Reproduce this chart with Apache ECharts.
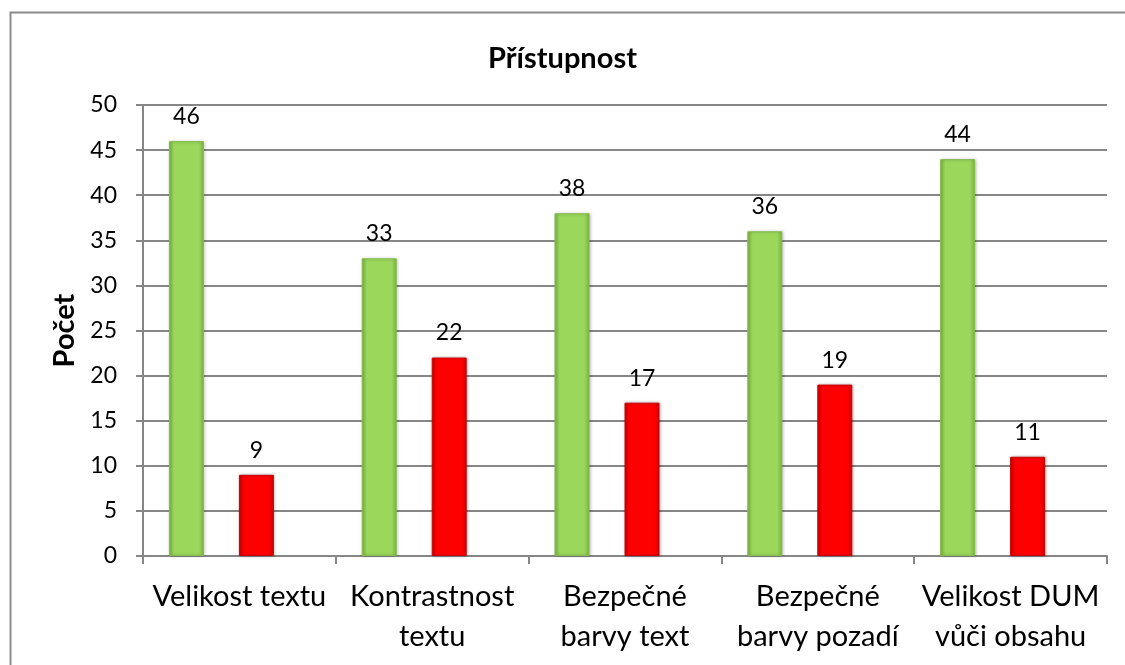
<!DOCTYPE html>
<html>
<head>
<meta charset="utf-8">
<script src="https://cdn.jsdelivr.net/npm/echarts@6/dist/echarts.min.js"></script>
<style>
    html, body { margin: 0; padding: 0; background: #fff; }
    #chart { width: 1125px; height: 665px; }
</style>
</head>
<body>
<div id="chart"></div>
<script>
// data
const categories = ['Velikost textu', 'Kontrastnost\ntextu', 'Bezpečné\nbarvy text', 'Bezpečné\nbarvy pozadí', 'Velikost DUM\nvůči obsahu']
const greenValues = [46, 33, 38, 36, 44]
const redValues = [9, 22, 17, 19, 11]
const yTicks = { min: 0, max: 50, interval: 5 }

const FONT = 'Lato'

let chart = echarts.init(document.getElementById('chart'), null, { renderer: 'canvas' })

function barColor(edge, mid) {
    return new echarts.graphic.LinearGradient(0, 0, 1, 0, [
        { offset: 0, color: edge },
        { offset: 0.15, color: mid },
        { offset: 0.85, color: mid },
        { offset: 1, color: edge }
    ])
}

let dataLabel = {
    show: true,
    position: 'top',
    distance: 13,
    color: '#000',
    fontFamily: FONT,
    fontSize: 23
}

let option = {
    animation: false,
    backgroundColor: '#fff',
    title: {
        text: 'Přístupnost',
        left: 'center',
        top: 39,
        textStyle: { fontFamily: FONT, fontWeight: 'bold', fontSize: 29, color: '#000' }
    },
    graphic: [{
        type: 'rect',
        shape: { x: 10.5, y: 12.5, width: 1200, height: 700 },
        style: { fill: 'none', stroke: '#8c8c8c', lineWidth: 2 },
        silent: true
    }],
    // grid 0 draws the visible axes, grid 1 (shifted left) holds the bars
    grid: [
        { left: 143, right: 18, top: 105, bottom: 109 },
        { left: 125, right: 36, top: 105, bottom: 109 }
    ],
    xAxis: [
        {
            type: 'category',
            gridIndex: 0,
            data: categories,
            axisLine: { lineStyle: { color: '#868686', width: 2 } },
            axisTick: { show: true, length: 8, lineStyle: { color: '#868686', width: 2 } },
            axisLabel: {
                interval: 0,
                margin: 21,
                color: '#000',
                fontFamily: FONT,
                fontSize: 29,
                lineHeight: 40
            }
        },
        {
            type: 'category',
            gridIndex: 1,
            data: categories,
            show: false
        }
    ],
    yAxis: [
        {
            type: 'value',
            gridIndex: 0,
            min: yTicks.min,
            max: yTicks.max,
            interval: yTicks.interval,
            name: 'Počet',
            nameLocation: 'middle',
            nameGap: 64,
            nameTextStyle: { fontFamily: FONT, fontWeight: 'bold', fontSize: 29, color: '#000' },
            axisLine: { show: true, lineStyle: { color: '#868686', width: 2 } },
            axisTick: { show: true, length: 7, lineStyle: { color: '#868686', width: 2 } },
            axisLabel: { margin: 26, color: '#000', fontFamily: FONT, fontSize: 23 },
            splitLine: { show: true, lineStyle: { color: '#868686', width: 2 } }
        },
        {
            type: 'value',
            gridIndex: 1,
            min: yTicks.min,
            max: yTicks.max,
            interval: yTicks.interval,
            show: false,
            splitLine: { show: false }
        }
    ],
    series: [
        {
            name: 'green',
            type: 'bar',
            xAxisIndex: 1,
            yAxisIndex: 1,
            data: greenValues,
            barWidth: 35,
            barGap: '100%',
            itemStyle: {
                color: barColor('#7cb443', '#9ad75a'),
                borderColor: '#86bd4c',
                borderWidth: 1,
                shadowColor: 'rgba(0,0,0,0.25)',
                shadowBlur: 3,
                shadowOffsetX: 1
            },
            label: dataLabel
        },
        {
            name: 'red',
            type: 'bar',
            xAxisIndex: 1,
            yAxisIndex: 1,
            data: redValues,
            barWidth: 35,
            itemStyle: {
                color: barColor('#d20000', '#ff0000'),
                borderColor: '#c80000',
                borderWidth: 1,
                shadowColor: 'rgba(0,0,0,0.25)',
                shadowBlur: 3,
                shadowOffsetX: 1
            },
            label: dataLabel
        }
    ]
}

chart.setOption(option)
</script>
</body>
</html>
